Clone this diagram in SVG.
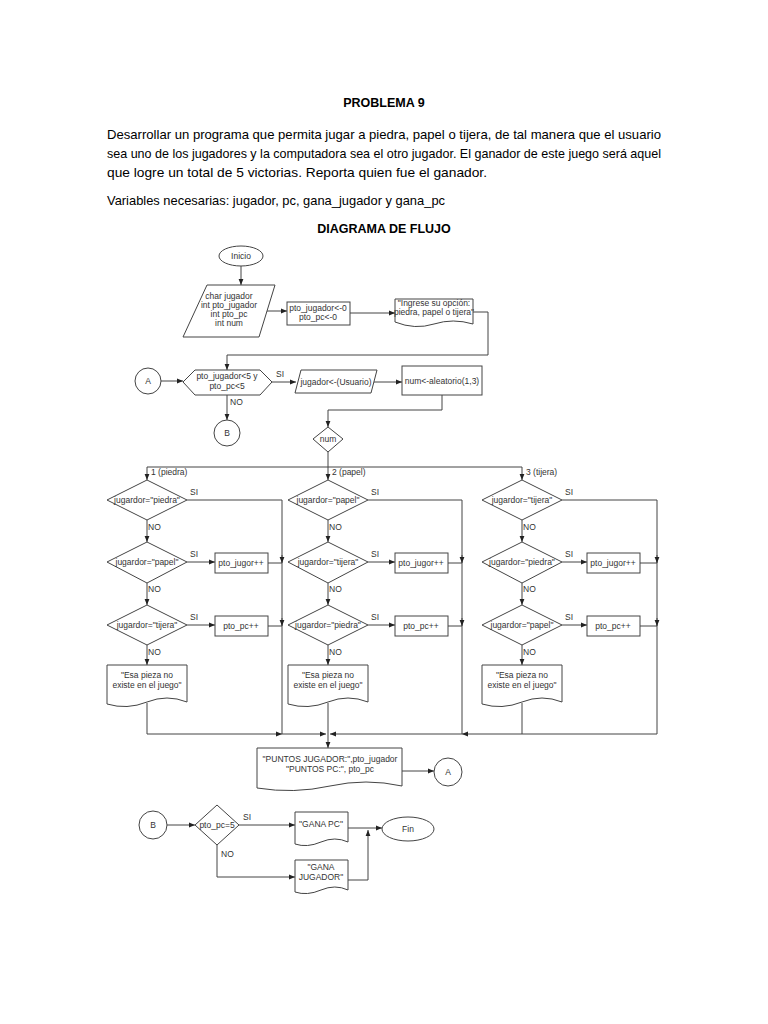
<svg xmlns="http://www.w3.org/2000/svg" width="768" height="1024" viewBox="0 0 768 1024">
<style>
.t{font-family:"Liberation Sans",Arial,sans-serif;fill:#000}
.h{font-family:"Liberation Sans",Arial,sans-serif;font-size:12.5px;font-weight:bold;text-anchor:middle}
.p{font-family:"Liberation Sans",Arial,sans-serif;font-size:13px}
.f{font-family:"Liberation Sans",Arial,sans-serif;font-size:8.5px;fill:#333;text-anchor:middle}
.l{font-family:"Liberation Sans",Arial,sans-serif;font-size:8.5px;fill:#333}
.s{fill:#fff;stroke:#444;stroke-width:1}
.c{fill:none;stroke:#444;stroke-width:1}
</style>
<defs>
<marker id="ar" viewBox="0 0 10 10" refX="10" refY="5" markerWidth="6" markerHeight="6" orient="auto"><path d="M0,1 L10,5 L0,9 z" fill="#222"/></marker>
</defs>
<rect width="768" height="1024" fill="#fff"/>
<text class="h" x="384" y="107">PROBLEMA 9</text>
<text class="p" x="107" y="139" textLength="554" lengthAdjust="spacingAndGlyphs">Desarrollar un programa que permita jugar a piedra, papel o tijera, de tal manera que el usuario</text>
<text class="p" x="107" y="158" textLength="554" lengthAdjust="spacingAndGlyphs">sea uno de los jugadores y la computadora sea el otro jugador. El ganador de este juego será aquel</text>
<text class="p" x="107" y="177" textLength="380" lengthAdjust="spacingAndGlyphs">que logre un total de 5 victorias. Reporta quien fue el ganador.</text>
<text class="p" x="107" y="205" textLength="338" lengthAdjust="spacingAndGlyphs">Variables necesarias: jugador, pc, gana_jugador y gana_pc</text>
<text class="h" x="384" y="233">DIAGRAMA DE FLUJO</text>

<g id="connectors">
<path class="c" d="M241,266 V285" marker-end="url(#ar)"/>
<path class="c" d="M266,311 H287" marker-end="url(#ar)"/>
<path class="c" d="M350,313 H395" marker-end="url(#ar)"/>
<path class="c" d="M473,312 H488 V355 H227 V370" marker-end="url(#ar)"/>
<path class="c" d="M161,381 H183" marker-end="url(#ar)"/>
<path class="c" d="M272,382 H296" marker-end="url(#ar)"/>
<path class="c" d="M373,382 H402" marker-end="url(#ar)"/>
<path class="c" d="M442,395 V410 H328 V427" marker-end="url(#ar)"/>
<path class="c" d="M227,395 V420" marker-end="url(#ar)"/>
<path class="c" d="M328,452 V480" marker-end="url(#ar)"/>
<path class="c" d="M147,467 H522"/>
<path class="c" d="M147,467 V480" marker-end="url(#ar)"/>
<path class="c" d="M522,467 V480" marker-end="url(#ar)"/>
<!-- column 1 -->
<path class="c" d="M147,520 V542" marker-end="url(#ar)"/>
<path class="c" d="M147,583 V605" marker-end="url(#ar)"/>
<path class="c" d="M147,645 V665" marker-end="url(#ar)"/>
<path class="c" d="M187,562 H215" marker-end="url(#ar)"/>
<path class="c" d="M187,625 H215" marker-end="url(#ar)"/>
<path class="c" d="M187,500 H282 V734"/>
<path class="c" d="M268,563 H282"/><path class="c" d="M282,555 V563" marker-end="url(#ar)"/>
<path class="c" d="M268,626 H282"/><path class="c" d="M282,618 V626" marker-end="url(#ar)"/>
<path class="c" d="M147,703 V734 H282" marker-end="url(#ar)"/>
<path class="c" d="M282,734 H326" marker-end="url(#ar)"/>
<!-- column 2 -->
<path class="c" d="M328,520 V542" marker-end="url(#ar)"/>
<path class="c" d="M328,583 V605" marker-end="url(#ar)"/>
<path class="c" d="M328,645 V665" marker-end="url(#ar)"/>
<path class="c" d="M368,562 H395" marker-end="url(#ar)"/>
<path class="c" d="M368,625 H395" marker-end="url(#ar)"/>
<path class="c" d="M368,500 H462 V734"/>
<path class="c" d="M448,563 H462"/><path class="c" d="M462,555 V563" marker-end="url(#ar)"/>
<path class="c" d="M448,626 H462"/><path class="c" d="M462,618 V626" marker-end="url(#ar)"/>
<path class="c" d="M328,703 V748" marker-end="url(#ar)"/>
<!-- column 3 -->
<path class="c" d="M522,520 V542" marker-end="url(#ar)"/>
<path class="c" d="M522,583 V605" marker-end="url(#ar)"/>
<path class="c" d="M522,645 V665" marker-end="url(#ar)"/>
<path class="c" d="M562,562 H587" marker-end="url(#ar)"/>
<path class="c" d="M562,625 H587" marker-end="url(#ar)"/>
<path class="c" d="M562,500 H657 V734 H522"/>
<path class="c" d="M640,563 H657"/><path class="c" d="M657,555 V563" marker-end="url(#ar)"/>
<path class="c" d="M640,626 H657"/><path class="c" d="M657,618 V626" marker-end="url(#ar)"/>
<path class="c" d="M522,703 V734 H462" marker-end="url(#ar)"/>
<path class="c" d="M462,734 H330" marker-end="url(#ar)"/>
<!-- bottom -->
<path class="c" d="M402,771 H434" marker-end="url(#ar)"/>
<path class="c" d="M167,825 H195" marker-end="url(#ar)"/>
<path class="c" d="M239,825 H295" marker-end="url(#ar)"/>
<path class="c" d="M348,828 H382" marker-end="url(#ar)"/>
<path class="c" d="M217,845 V877 H295" marker-end="url(#ar)"/>
<path class="c" d="M348,880 H368 V830" marker-end="url(#ar)"/>
</g>

<g id="inicio"><ellipse class="s" cx="241" cy="256" rx="22" ry="10"/><text class="f" x="241" y="259">Inicio</text></g>
<g id="decl"><polygon class="s" points="207,285 275,285 259,337 183,337"/>
<text class="f" x="229" y="299">char jugador</text><text class="f" x="229" y="308">int pto_jugador</text><text class="f" x="229" y="317">int pto_pc</text><text class="f" x="229" y="326">int num</text></g>
<g id="init"><rect class="s" x="287" y="302" width="63" height="23"/><text class="f" x="318" y="311">pto_jugador&lt;-0</text><text class="f" x="318" y="320">pto_pc&lt;-0</text></g>
<g id="ingrese"><path class="s" d="M395,299 H473 V324 Q453,318 434,324 T395,322 Z"/><text class="f" x="434" y="306">"Ingrese su opción:</text><text class="f" x="434" y="315">piedra, papel o tijera"</text></g>
<g id="a1"><circle class="s" cx="148" cy="381" r="13"/><text class="f" x="148" y="384">A</text></g>
<g id="cond"><polygon class="s" points="183,382 195,370 260,370 272,382 260,395 195,395"/><text class="f" x="227" y="379">pto_jugador&lt;5 y</text><text class="f" x="227" y="389">pto_pc&lt;5</text>
<text class="l" x="276" y="377">SI</text><text class="l" x="230" y="405">NO</text></g>
<g id="b1"><circle class="s" cx="227" cy="433" r="13"/><text class="f" x="227" y="436">B</text></g>
<g id="leer"><polygon class="s" points="301,370 377,370 371,393 295,393"/><text class="f" x="336" y="385">jugador&lt;-(Usuario)</text></g>
<g id="alea"><rect class="s" x="402" y="366" width="80" height="29"/><text class="f" x="442" y="384">num&lt;-aleatorio(1,3)</text></g>
<g id="num"><polygon class="s" points="328,427 343,439 328,452 313,439"/><text class="f" x="328" y="442">num</text></g>

<g id="labels"><text class="l" x="151" y="475">1 (piedra)</text><text class="l" x="332" y="475">2 (papel)</text><text class="l" x="526" y="475">3 (tijera)</text></g>

<g id="col1">
<polygon class="s" points="147,480 187,500 147,520 107,500"/><text class="f" x="147" y="503">jugardor="piedra"</text>
<polygon class="s" points="147,542 187,562 147,583 107,562"/><text class="f" x="147" y="565">jugardor="papel"</text>
<polygon class="s" points="147,605 187,625 147,645 107,625"/><text class="f" x="147" y="628">jugardor="tijera"</text>
<rect class="s" x="215" y="553" width="53" height="20"/><text class="f" x="241" y="566">pto_jugor++</text>
<rect class="s" x="215" y="616" width="53" height="20"/><text class="f" x="241" y="629">pto_pc++</text>
<path class="s" d="M107,665 H187 V702 Q167,694 147,702 T107,704 Z"/><text class="f" x="147" y="678">"Esa pieza no</text><text class="f" x="147" y="688">existe en el juego"</text>
<text class="l" x="190" y="495">SI</text><text class="l" x="190" y="557">SI</text><text class="l" x="190" y="620">SI</text>
<text class="l" x="148" y="530">NO</text><text class="l" x="148" y="592">NO</text><text class="l" x="148" y="655">NO</text>
</g>
<g id="col2">
<polygon class="s" points="328,480 368,500 328,520 288,500"/><text class="f" x="328" y="503">jugardor="papel"</text>
<polygon class="s" points="328,542 368,562 328,583 288,562"/><text class="f" x="328" y="565">jugardor="tijera"</text>
<polygon class="s" points="328,605 368,625 328,645 288,625"/><text class="f" x="328" y="628">jugardor="piedra"</text>
<rect class="s" x="395" y="553" width="53" height="20"/><text class="f" x="421" y="566">pto_jugor++</text>
<rect class="s" x="395" y="616" width="53" height="20"/><text class="f" x="421" y="629">pto_pc++</text>
<path class="s" d="M288,665 H368 V702 Q348,694 328,702 T288,704 Z"/><text class="f" x="328" y="678">"Esa pieza no</text><text class="f" x="328" y="688">existe en el juego"</text>
<text class="l" x="371" y="495">SI</text><text class="l" x="371" y="557">SI</text><text class="l" x="371" y="620">SI</text>
<text class="l" x="329" y="530">NO</text><text class="l" x="329" y="592">NO</text><text class="l" x="329" y="655">NO</text>
</g>
<g id="col3">
<polygon class="s" points="522,480 562,500 522,520 482,500"/><text class="f" x="522" y="503">jugardor="tijera"</text>
<polygon class="s" points="522,542 562,562 522,583 482,562"/><text class="f" x="522" y="565">jugardor="piedra"</text>
<polygon class="s" points="522,605 562,625 522,645 482,625"/><text class="f" x="522" y="628">jugardor="papel"</text>
<rect class="s" x="587" y="553" width="53" height="20"/><text class="f" x="613" y="566">pto_jugor++</text>
<rect class="s" x="587" y="616" width="53" height="20"/><text class="f" x="613" y="629">pto_pc++</text>
<path class="s" d="M482,665 H562 V702 Q542,694 522,702 T482,704 Z"/><text class="f" x="522" y="678">"Esa pieza no</text><text class="f" x="522" y="688">existe en el juego"</text>
<text class="l" x="565" y="495">SI</text><text class="l" x="565" y="557">SI</text><text class="l" x="565" y="620">SI</text>
<text class="l" x="523" y="530">NO</text><text class="l" x="523" y="592">NO</text><text class="l" x="523" y="655">NO</text>
</g>

<g id="puntos"><path class="s" d="M257,748 H402 V786 Q366,778 330,786 T257,788 Z"/><text class="f" x="330" y="762">"PUNTOS JUGADOR:",pto_jugador</text><text class="f" x="330" y="772">"PUNTOS PC:", pto_pc</text></g>
<g id="a2"><circle class="s" cx="448" cy="772" r="14"/><text class="f" x="448" y="775">A</text></g>
<g id="b2"><circle class="s" cx="153" cy="825" r="14"/><text class="f" x="153" y="828">B</text></g>
<g id="fincond"><polygon class="s" points="217,805 239,825 217,845 195,825"/><text class="f" x="217" y="828">pto_pc=5</text>
<text class="l" x="243" y="820">SI</text><text class="l" x="221" y="857">NO</text></g>
<g id="ganapc"><path class="s" d="M295,812 H348 V842 Q335,836 321,842 T295,844 Z"/><text class="f" x="321" y="827">"GANA PC"</text></g>
<g id="ganajug"><path class="s" d="M295,860 H348 V890 Q335,884 321,890 T295,892 Z"/><text class="f" x="321" y="870">"GANA</text><text class="f" x="321" y="880">JUGADOR"</text></g>
<g id="fin"><ellipse class="s" cx="408" cy="829" rx="26" ry="12"/><text class="f" x="408" y="832">Fin</text></g>
</svg>
